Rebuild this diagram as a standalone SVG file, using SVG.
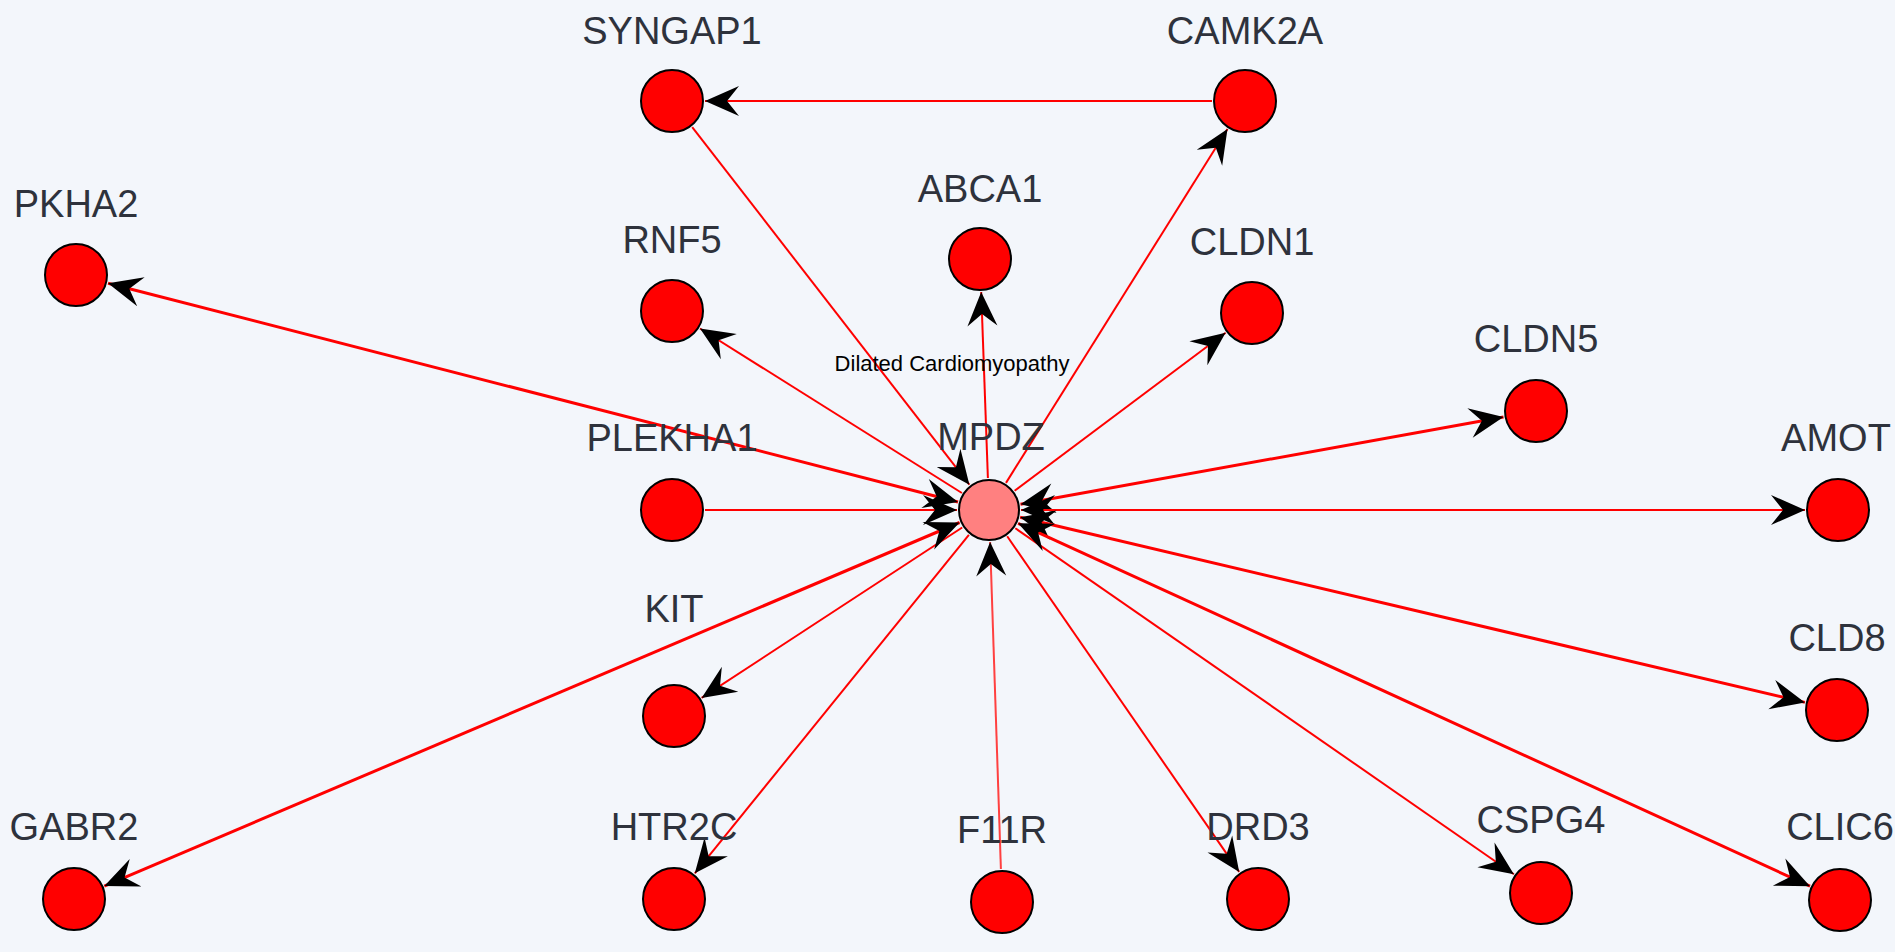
<svg xmlns="http://www.w3.org/2000/svg" width="1895" height="952" viewBox="0 0 1895 952">
  <style>
    .edge { stroke: #ff0000; stroke-width: 2; fill: none; }
    .bi { stroke-width: 3; }
    .node { fill: #ff0000; stroke: #000000; stroke-width: 2; }
    .hub { fill: #ff8080; stroke: #000000; stroke-width: 2; }
    .lbl { font-family: "Liberation Sans", Arial, sans-serif; font-size: 38px; fill: #2e323c; text-anchor: middle; }
    .title { font-family: "Liberation Sans", Arial, sans-serif; font-size: 22px; fill: #000000; text-anchor: middle; }
  </style>
  <defs>
    <marker id="arrow" viewBox="-36 -17 38 34" refX="0" refY="0" markerWidth="38" markerHeight="34" markerUnits="userSpaceOnUse" orient="auto-start-reverse">
      <path d="M0,0 L-34,-15 L-22,0 L-34,15 Z" fill="#000000"/>
    </marker>
  </defs>

  <rect x="0" y="0" width="1895" height="952" fill="#f3f6fb"/>

  <!-- interactions -->
  <g id="edges">
    <line class="edge" x1="692.2" y1="127.1" x2="969.4" y2="484.7" marker-end="url(#arrow)"/>
    <line class="edge" x1="1212" y1="101" x2="705" y2="101" marker-end="url(#arrow)"/>
    <line class="edge" x1="1006.0" y1="482.9" x2="1227.5" y2="129.0" marker-end="url(#arrow)"/>
    <line class="edge" x1="987.9" y1="478.0" x2="981.2" y2="292.0" marker-end="url(#arrow)"/>
    <line class="edge" x1="961.9" y1="493.0" x2="700.0" y2="328.5" marker-end="url(#arrow)"/>
    <line class="edge" x1="1014.6" y1="490.8" x2="1225.6" y2="332.8" marker-end="url(#arrow)"/>
    <line class="edge bi" x1="958.0" y1="502.0" x2="108.0" y2="283.2" marker-start="url(#arrow)" marker-end="url(#arrow)"/>
    <line class="edge bi" x1="1020.5" y1="504.3" x2="1503.5" y2="416.9" marker-start="url(#arrow)" marker-end="url(#arrow)"/>
    <line class="edge" x1="705" y1="510" x2="957" y2="510" marker-end="url(#arrow)"/>
    <line class="edge" x1="1021" y1="510" x2="1805" y2="510" marker-start="url(#arrow)" marker-end="url(#arrow)"/>
    <line class="edge" x1="962.2" y1="527.5" x2="701.6" y2="697.9" marker-end="url(#arrow)"/>
    <line class="edge bi" x1="1020.1" y1="517.3" x2="1804.9" y2="702.4" marker-start="url(#arrow)" marker-end="url(#arrow)"/>
    <line class="edge bi" x1="959.6" y1="522.5" x2="104.3" y2="886.1" marker-start="url(#arrow)" marker-end="url(#arrow)"/>
    <line class="edge" x1="968.9" y1="534.9" x2="694.8" y2="873.3" marker-end="url(#arrow)"/>
    <line class="edge" x1="1000.9" y1="869.0" x2="990.1" y2="542.0" stroke-width="3" style="stroke:#ff4040" marker-end="url(#arrow)"/>
    <line class="edge" x1="1007.2" y1="536.3" x2="1239.2" y2="871.9" marker-end="url(#arrow)"/>
    <line class="edge" x1="1015.3" y1="528.2" x2="1513.9" y2="874.2" marker-end="url(#arrow)"/>
    <line class="edge bi" x1="1018.1" y1="523.3" x2="1810.0" y2="886.2" marker-start="url(#arrow)" marker-end="url(#arrow)"/>
  </g>

  <text class="title" x="952" y="371">Dilated Cardiomyopathy</text>

  <g id="SYNGAP1"><circle class="node" cx="672" cy="101" r="31"/><text class="lbl" x="672" y="44">SYNGAP1</text></g>
  <g id="CAMK2A"><circle class="node" cx="1245" cy="101" r="31"/><text class="lbl" x="1245" y="44">CAMK2A</text></g>
  <g id="ABCA1"><circle class="node" cx="980" cy="259" r="31"/><text class="lbl" x="980" y="202">ABCA1</text></g>
  <g id="RNF5"><circle class="node" cx="672" cy="311" r="31"/><text class="lbl" x="672" y="253">RNF5</text></g>
  <g id="CLDN1"><circle class="node" cx="1252" cy="313" r="31"/><text class="lbl" x="1252" y="255">CLDN1</text></g>
  <g id="PKHA2"><circle class="node" cx="76" cy="275" r="31"/><text class="lbl" x="76" y="217">PKHA2</text></g>
  <g id="CLDN5"><circle class="node" cx="1536" cy="411" r="31"/><text class="lbl" x="1536" y="352">CLDN5</text></g>
  <g id="PLEKHA1"><circle class="node" cx="672" cy="510" r="31"/><text class="lbl" x="672" y="451">PLEKHA1</text></g>
  <g id="AMOT"><circle class="node" cx="1838" cy="510" r="31"/><text class="lbl" x="1836" y="451">AMOT</text></g>
  <g id="KIT"><circle class="node" cx="674" cy="716" r="31"/><text class="lbl" x="674" y="622">KIT</text></g>
  <g id="CLD8"><circle class="node" cx="1837" cy="710" r="31"/><text class="lbl" x="1837" y="651">CLD8</text></g>
  <g id="GABR2"><circle class="node" cx="74" cy="899" r="31"/><text class="lbl" x="74" y="840">GABR2</text></g>
  <g id="HTR2C"><circle class="node" cx="674" cy="899" r="31"/><text class="lbl" x="674" y="840">HTR2C</text></g>
  <g id="F11R"><circle class="node" cx="1002" cy="902" r="31"/><text class="lbl" x="1002" y="843">F11R</text></g>
  <g id="DRD3"><circle class="node" cx="1258" cy="899" r="31"/><text class="lbl" x="1258" y="840">DRD3</text></g>
  <g id="CSPG4"><circle class="node" cx="1541" cy="893" r="31"/><text class="lbl" x="1541" y="833">CSPG4</text></g>
  <g id="CLIC6"><circle class="node" cx="1840" cy="900" r="31"/><text class="lbl" x="1840" y="840">CLIC6</text></g>
  <g id="MPDZ"><circle class="hub" cx="989" cy="510" r="30"/><text class="lbl" x="991" y="450">MPDZ</text></g>
</svg>
